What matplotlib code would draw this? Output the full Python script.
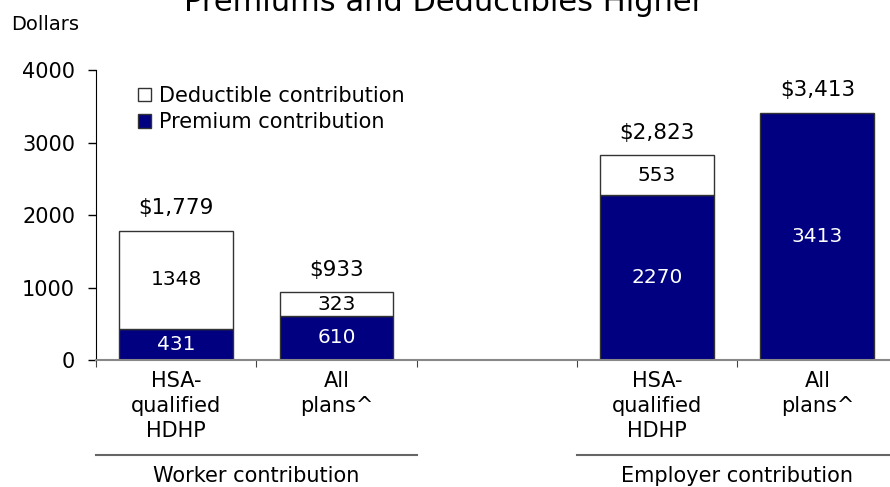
import matplotlib
matplotlib.use("Agg")
import matplotlib.pyplot as plt
import matplotlib.transforms as mtransforms
from matplotlib.patches import Patch

plt.rcParams['font.family'] = ['DejaVu Sans']

# data
groups = ["Worker contribution", "Employer contribution"]
plans = ["HSA-\nqualified\nHDHP", "All\nplans^"]
premium = [431, 610, 2270, 3413]
deductible = [1348, 323, 553, 0]
navy = "#000080"
edge = "#333333"

# two bars per group, one empty slot between groups
xs = [g * 3 + p for g in range(len(groups)) for p in range(len(plans))]
totals = [p + d for p, d in zip(premium, deductible)]

fig = plt.figure(figsize=(8.9, 4.87), dpi=100)
ax = fig.add_axes([96 / 890, 127 / 487, 801.5 / 890, 290 / 487])

w = 0.71
ax.bar(xs, premium, width=w, color=navy, edgecolor=edge, linewidth=1, zorder=2)
for x, p, d in zip(xs, premium, deductible):
    if d > 0:
        ax.bar(x, d, bottom=p, width=w, color="white", edgecolor=edge, linewidth=1, zorder=2)

for x, p, d, t in zip(xs, premium, deductible, totals):
    ax.text(x, p / 2, str(p), ha="center", va="center", color="white", fontsize=14.5)
    if d > 0:
        ax.text(x, p + d / 2, str(d), ha="center", va="center", color="black", fontsize=14.5)
    ax.annotate("${:,}".format(t), (x, t), xytext=(0, 12), textcoords="offset points",
                ha="center", va="baseline", fontsize=15.5)

ax.set_ylim(0, 4000)
ax.set_xlim(-0.5, 4.5)
ax.set_yticks(range(0, 4001, 1000))
ax.tick_params(axis="y", length=6, width=1, pad=9, labelsize=15)

# boundary ticks as majors, labels on minors
ax.set_xticks([-0.5, 0.5, 1.5, 2.5, 3.5])
ax.set_xticklabels([])
ax.set_xticks(xs, minor=True)
ax.set_xticklabels(plans * len(groups), minor=True, fontsize=15, linespacing=1.3)
ax.tick_params(axis="x", which="major", length=5, color="#444444")
ax.tick_params(axis="x", which="minor", length=0, pad=8)

for s in ["top", "right"]:
    ax.spines[s].set_visible(False)
ax.spines["bottom"].set_color("#888888")
ax.spines["bottom"].set_linewidth(1.5)
ax.spines["left"].set_color("black")

# group brackets under the labels
tr = mtransforms.blended_transform_factory(ax.transData, fig.transFigure)
for g, name in enumerate(groups):
    x0 = xs[g * len(plans)] - 0.5
    x1 = xs[g * len(plans) + len(plans) - 1] + 0.5
    ax.plot([x0, x1], [32 / 487, 32 / 487], color="#666666", lw=1.5,
            transform=tr, clip_on=False)
    ax.text((x0 + x1) / 2, 11 / 487, name, ha="center", va="center",
            fontsize=15, transform=tr)

handles = [Patch(facecolor="white", edgecolor=edge, label="Deductible contribution"),
           Patch(facecolor=navy, edgecolor=edge, label="Premium contribution")]
fig.legend(handles=handles, loc="upper left", bbox_to_anchor=(138 / 890, 1 - 86 / 487),
           frameon=False, fontsize=15, handlelength=0.6, handleheight=0.6,
           handletextpad=0.4, labelspacing=0.3, borderpad=0, borderaxespad=0)

fig.text(444 / 890, 1 - 11 / 487, "Premiums and Deductibles Higher", ha="center",
         va="baseline", fontsize=22)
fig.text(11 / 890, 1 - 25 / 487, "Dollars", ha="left", va="center", fontsize=14)

fig.savefig("out.png", dpi=100)
